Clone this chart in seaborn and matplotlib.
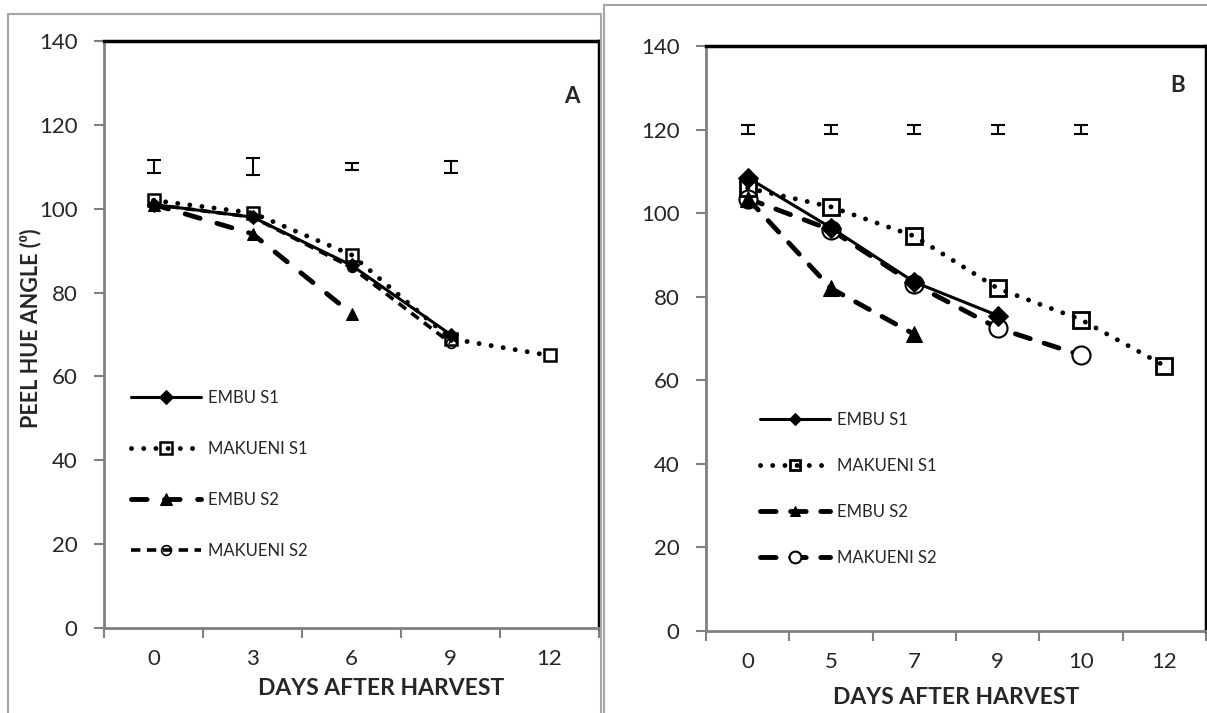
import numpy as np
import matplotlib
matplotlib.use("Agg")
import matplotlib.pyplot as plt
import seaborn as sns
from matplotlib.patches import Rectangle

# panel A data (categorical days)
days_a = ["0", "3", "6", "9", "12"]
embu_s1_a = [101, 98, 86.5, 70]
makueni_s1_a = [102, 99, 89, 69, 65]
embu_s2_a = [101, 94, 75]
makueni_s2_a = [101, 98, 86, 68]
err_mid_a = [110, 110, 110, 110]
err_a = [1.6, 2.0, 0.8, 1.4]

# panel B data
days_b = ["0", "5", "7", "9", "10", "12"]
embu_s1_b = [108.5, 96.5, 83.5, 75.5]
makueni_s1_b = [106, 101.5, 94.5, 82, 74.5, 63.5]
embu_s2_b = [103.5, 82, 71]
makueni_s2_b = [103.5, 96, 83, 72.5, 66]
err_mid_b = [120, 120, 120, 120, 120]
err_b = [1.0, 1.0, 1.0, 1.0, 1.0]

labels = ["EMBU S1", "MAKUENI S1", "EMBU S2", "MAKUENI S2"]

sns.set_style("white")
plt.rcParams["font.family"] = ["Lato", "DejaVu Sans"]

W, H = 1207, 713
fig = plt.figure(figsize=(W / 100, H / 100), dpi=100)

# outer panel frames
fig.patches.append(Rectangle((8 / W, -0.01), 593 / W, 1 - 14 / H + 0.01,
                             transform=fig.transFigure, fill=False, ec="#a6a6a6", lw=1.5))
fig.patches.append(Rectangle((604 / W, -0.01), 0.6, 1 - 5 / H + 0.01,
                             transform=fig.transFigure, fill=False, ec="#a6a6a6", lw=1.5))

ax_a = fig.add_axes([104 / W, 85 / H, 495 / W, 587 / H])
ax_b = fig.add_axes([706 / W, 82 / H, 500 / W, 585 / H])


def draw_series(ax, vals, style):
    x = np.arange(len(vals))
    sns.lineplot(x=x, y=vals, ax=ax, color="black", errorbar=None, sort=False, **style)


styles_a = [
    dict(lw=2.2, linestyle="-", marker="D", markersize=7, markerfacecolor="black",
         markeredgecolor="black"),
    dict(lw=3.5, linestyle=(0, (0.01, 2.5)), dash_capstyle="round", marker="s", markersize=9,
         markerfacecolor="none", markeredgecolor="black", markeredgewidth=1.8),
    dict(lw=3.5, linestyle=(0, (3.2, 3.6)), dash_capstyle="round", marker="^", markersize=9,
         markerfacecolor="black", markeredgecolor="black"),
    dict(lw=2.6, linestyle=(0, (2.6, 1.8)), marker="o", markersize=7, markerfacecolor="none",
         markeredgecolor="black", markeredgewidth=1.2),
]
styles_b = [
    dict(lw=2.2, linestyle="-", marker="D", markersize=10, markerfacecolor="black",
         markeredgecolor="black"),
    dict(lw=3.5, linestyle=(0, (0.01, 2.5)), dash_capstyle="round", marker="s", markersize=11,
         markerfacecolor="none", markeredgecolor="black", markeredgewidth=2),
    dict(lw=3.5, linestyle=(0, (3.2, 3.0)), dash_capstyle="round", marker="^", markersize=12,
         markerfacecolor="black", markeredgecolor="black"),
    dict(lw=3.5, linestyle=(0, (3.2, 3.0)), dash_capstyle="round", marker="o", markersize=13,
         markerfacecolor="white", markeredgecolor="black", markeredgewidth=1.5),
]

series_a = [embu_s1_a, makueni_s1_a, embu_s2_a, makueni_s2_a]
series_b = [embu_s1_b, makueni_s1_b, embu_s2_b, makueni_s2_b]
order_b = [3, 1, 2, 0]  # draw circles under diamonds

for vals, st, lab in zip(series_a, styles_a, labels):
    draw_series(ax_a, vals, dict(st, label=lab))
for i in order_b:
    draw_series(ax_b, series_b[i], dict(styles_b[i], label=labels[i]))

ax_a.errorbar(np.arange(len(err_mid_a)), err_mid_a, yerr=err_a, fmt="none",
              ecolor="black", elinewidth=1.5, capsize=5, capthick=1.5)
ax_b.errorbar(np.arange(len(err_mid_b)), err_mid_b, yerr=err_b, fmt="none",
              ecolor="black", elinewidth=1.5, capsize=5, capthick=1.5)


def style_axes(ax, days):
    n = len(days)
    ax.set_xlim(-0.5, n - 0.5)
    ax.set_ylim(0, 140)
    ax.set_yticks(np.arange(0, 141, 20))
    ax.set_xticks(np.arange(n))
    ax.set_xticklabels(days)
    ax.set_xticks(np.arange(n + 1) - 0.5, minor=True)
    ax.tick_params(axis="x", which="major", length=0, pad=15, labelsize=16)
    ax.tick_params(axis="x", which="minor", length=7, width=1.5, color="#808080", direction="out",
                   bottom=True)
    ax.tick_params(axis="y", length=7, width=1.5, color="#808080", direction="out", left=True,
                   pad=12, labelsize=16)
    for s in ["left", "bottom"]:
        ax.spines[s].set_color("#808080")
        ax.spines[s].set_linewidth(2)
    for s in ["top", "right"]:
        ax.spines[s].set_color("black")
        ax.spines[s].set_linewidth(2.5)
    ax.set_xlabel("DAYS AFTER HARVEST", fontsize=16.5, fontweight="bold", labelpad=0)
    ax.set_ylabel("")


style_axes(ax_a, days_a)
style_axes(ax_b, days_b)
ax_a.xaxis.set_label_coords((381 - 104) / 495, -0.085)
ax_b.xaxis.set_label_coords(0.5, -0.095)

fig.text(31 / W, 1 - 328 / H, "PEEL HUE ANGLE (⁰)", rotation=90, fontsize=15.5,
         fontweight="bold", ha="center", va="center")
ax_a.text(0.945, 0.905, "A", transform=ax_a.transAxes, fontsize=16, fontweight="bold",
          ha="center", va="center")
ax_b.text(0.944, 0.933, "B", transform=ax_b.transAxes, fontsize=16, fontweight="bold",
          ha="center", va="center")

h, l = ax_a.get_legend_handles_labels()
ax_a.legend(h, l, loc="upper left", bbox_to_anchor=(0.055, 0.405), frameon=False,
            fontsize=12, handlelength=4.2, handletextpad=0.4, labelspacing=2.1,
            borderpad=0, borderaxespad=0, numpoints=1)
h, l = ax_b.get_legend_handles_labels()
hl = dict(zip(l, h))
ax_b.legend([hl[k] for k in labels], labels, loc="upper left", bbox_to_anchor=(0.108, 0.375),
            frameon=False, fontsize=12, handlelength=4.2, handletextpad=0.4, labelspacing=1.8,
            borderpad=0, borderaxespad=0, numpoints=1, markerscale=0.65)

fig.savefig("out.png", dpi=100)
